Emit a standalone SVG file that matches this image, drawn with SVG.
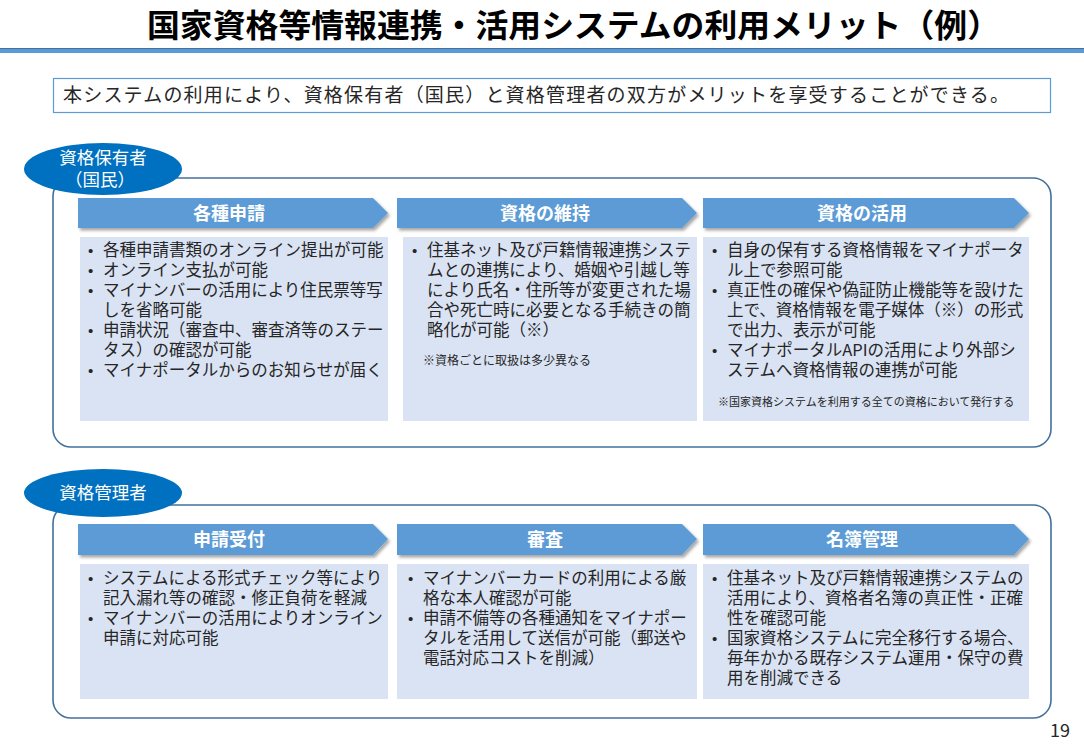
<svg xmlns="http://www.w3.org/2000/svg" width="1084" height="750" viewBox="0 0 1084 750">
<style>
.t{font-family:"Noto Sans CJK JP","Noto Sans",sans-serif;}
.title{font-size:32px;font-weight:bold;fill:#000;}
.sub{font-size:19px;fill:#262626;}
.frame{fill:#fff;stroke:#41719C;stroke-width:1.6;}
.ell{fill:#0070C0;}
.ellt{font-size:17.5px;fill:#fff;text-anchor:middle;}
.arrow{fill:#5B9BD5;}
.head{font-size:18px;font-weight:bold;fill:#fff;text-anchor:middle;}
.box{fill:#DAE3F3;}
.body{font-size:16.5px;fill:#262626;}
.bul{font-family:"Liberation Sans",sans-serif;font-size:15px;fill:#262626;}
.note{font-size:12px;fill:#262626;}
.note2{font-size:11px;fill:#262626;}
</style>
<defs>
<filter id="sh" x="-5%" y="-20%" width="110%" height="150%">
<feDropShadow dx="2" dy="2.5" stdDeviation="1.5" flood-color="#000" flood-opacity="0.35"/>
</filter>
</defs>
<rect width="1084" height="750" fill="#fff"/>
<g id="title">
<text class="t title" x="147" y="37" textLength="853" lengthAdjust="spacingAndGlyphs">国家資格等情報連携・活用システムの利用メリット（例）</text>
<rect x="0" y="48" width="1084" height="5" fill="#5B9BD5"/>
<rect x="0" y="48" width="1084" height="1" fill="#41719C"/>
</g>
<g id="subtitle">
<rect x="53.5" y="78.5" width="997" height="34" fill="#fff" stroke="#5B9BD5" stroke-width="1.2"/>
<text class="t sub" x="63" y="102" textLength="946" lengthAdjust="spacing">本システムの利用により、資格保有者（国民）と資格管理者の双方がメリットを享受することができる。</text>
</g>
<g id="section1">
<rect class="frame" x="53" y="178" width="998" height="269" rx="18"/>
<ellipse class="ell" cx="103" cy="169" rx="79" ry="26"/>
<text class="t ellt" x="103" y="164">資格保有者</text>
<text class="t ellt" x="100" y="186">（国民）</text>
</g>
<g id="h1a" filter="url(#sh)"><polygon class="arrow" points="78,198 373,198 388,213 373,228 78,228"/></g>
<text class="t head" x="229" y="220">各種申請</text>
<g id="h1b" filter="url(#sh)"><polygon class="arrow" points="397,198 682,198 697,213 682,228 397,228"/></g>
<text class="t head" x="545" y="220">資格の維持</text>
<g id="h1c" filter="url(#sh)"><polygon class="arrow" points="703,198 1014,198 1029,213 1014,228 703,228"/></g>
<text class="t head" x="862" y="220">資格の活用</text>
<g id="b1a">
<rect class="box" x="80" y="237" width="308" height="184"/>
<text class="bul"><tspan x="88" y="256">•</tspan><tspan x="88" y="276">•</tspan><tspan x="88" y="296">•</tspan><tspan x="88" y="336">•</tspan><tspan x="88" y="376">•</tspan></text>
<text class="t body" x="103" y="256">各種申請書類のオンライン提出が可能</text>
<text class="t body" x="103" y="276">オンライン支払が可能</text>
<text class="t body" x="103" y="296">マイナンバーの活用により住民票等写</text>
<text class="t body" x="103" y="316">しを省略可能</text>
<text class="t body" x="103" y="336">申請状況（審査中、審査済等のステー</text>
<text class="t body" x="103" y="356">タス）の確認が可能</text>
<text class="t body" x="103" y="376">マイナポータルからのお知らせが届く</text>
</g>
<g id="b1b">
<rect class="box" x="403" y="237" width="294" height="184"/>
<text class="bul"><tspan x="412" y="256">•</tspan></text>
<text class="t body" x="427" y="256">住基ネット及び戸籍情報連携システ</text>
<text class="t body" x="427" y="276">ムとの連携により、婚姻や引越し等</text>
<text class="t body" x="427" y="296">により氏名・住所等が変更された場</text>
<text class="t body" x="427" y="316">合や死亡時に必要となる手続きの簡</text>
<text class="t body" x="427" y="336">略化が可能（※）</text>
<text class="t note" x="423" y="365">※資格ごとに取扱は多少異なる</text>
</g>
<g id="b1c">
<rect class="box" x="703" y="237" width="326" height="184"/>
<text class="bul"><tspan x="712" y="256">•</tspan><tspan x="712" y="296">•</tspan><tspan x="712" y="356">•</tspan></text>
<text class="t body" x="727" y="256">自身の保有する資格情報をマイナポータ</text>
<text class="t body" x="727" y="276">ル上で参照可能</text>
<text class="t body" x="727" y="296">真正性の確保や偽証防止機能等を設けた</text>
<text class="t body" x="727" y="316">上で、資格情報を電子媒体（※）の形式</text>
<text class="t body" x="727" y="336">で出力、表示が可能</text>
<text class="t body" x="727" y="356">マイナポータルAPIの活用により外部シ</text>
<text class="t body" x="727" y="376">ステムへ資格情報の連携が可能</text>
<text class="t note2" x="718" y="406">※国家資格システムを利用する全ての資格において発行する</text>
</g>
<g id="section2">
<rect class="frame" x="53" y="505" width="998" height="213" rx="18"/>
<ellipse class="ell" cx="103" cy="493" rx="79" ry="24"/>
<text class="t ellt" x="103" y="499">資格管理者</text>
</g>
<g id="h2a" filter="url(#sh)"><polygon class="arrow" points="78,524 373,524 388,539 373,555 78,555"/></g>
<text class="t head" x="229" y="546">申請受付</text>
<g id="h2b" filter="url(#sh)"><polygon class="arrow" points="397,524 682,524 697,539 682,555 397,555"/></g>
<text class="t head" x="545" y="546">審査</text>
<g id="h2c" filter="url(#sh)"><polygon class="arrow" points="703,524 1014,524 1029,539 1014,555 703,555"/></g>
<text class="t head" x="862" y="546">名簿管理</text>
<g id="b2a">
<rect class="box" x="80" y="564" width="308" height="135"/>
<text class="bul"><tspan x="88" y="584">•</tspan><tspan x="88" y="624">•</tspan></text>
<text class="t body" x="103" y="584">システムによる形式チェック等により</text>
<text class="t body" x="103" y="604">記入漏れ等の確認・修正負荷を軽減</text>
<text class="t body" x="103" y="624">マイナンバーの活用によりオンライン</text>
<text class="t body" x="103" y="644">申請に対応可能</text>
</g>
<g id="b2b">
<rect class="box" x="397" y="564" width="300" height="135"/>
<text class="bul"><tspan x="408" y="584">•</tspan><tspan x="408" y="624">•</tspan></text>
<text class="t body" x="423" y="584">マイナンバーカードの利用による厳</text>
<text class="t body" x="423" y="604">格な本人確認が可能</text>
<text class="t body" x="423" y="624">申請不備等の各種通知をマイナポー</text>
<text class="t body" x="423" y="644">タルを活用して送信が可能（郵送や</text>
<text class="t body" x="423" y="664">電話対応コストを削減）</text>
</g>
<g id="b2c">
<rect class="box" x="703" y="564" width="326" height="135"/>
<text class="bul"><tspan x="712" y="584">•</tspan><tspan x="712" y="644">•</tspan></text>
<text class="t body" x="727" y="584">住基ネット及び戸籍情報連携システムの</text>
<text class="t body" x="727" y="604">活用により、資格者名簿の真正性・正確</text>
<text class="t body" x="727" y="624">性を確認可能</text>
<text class="t body" x="727" y="644">国家資格システムに完全移行する場合、</text>
<text class="t body" x="727" y="664">毎年かかる既存システム運用・保守の費</text>
<text class="t body" x="727" y="684">用を削減できる</text>
</g>
<g id="connectors"></g>
<text class="t" x="1060" y="737" font-size="18" fill="#262626" text-anchor="middle">19</text>
</svg>
